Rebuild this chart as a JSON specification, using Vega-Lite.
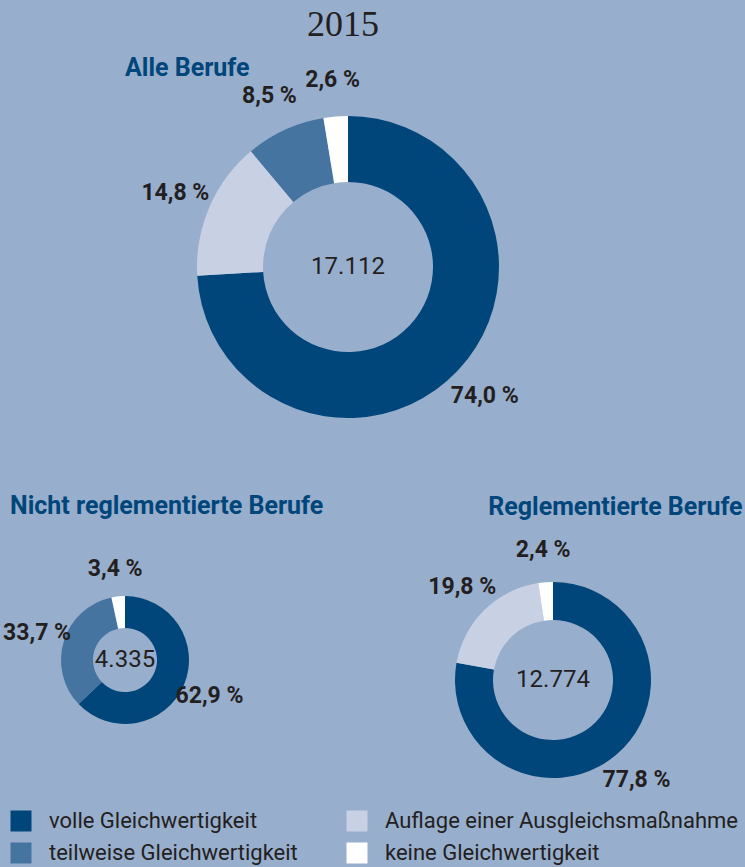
{
  "$schema": "https://vega.github.io/schema/vega-lite/v6.json",
  "background": "#98aecd",
  "padding": {"left": 0, "top": 6, "right": 0, "bottom": 0},
  "title": {"text": "2015", "font": "Liberation Serif", "fontSize": 36, "fontWeight": "normal", "color": "#231f20", "anchor": "start", "dx": 307, "baseline": "alphabetic", "offset": -16},
  "datasets": {
    "anteile": [
      {"gruppe": "Alle Berufe", "kategorie": "volle Gleichwertigkeit", "rang": 1, "anteil": 0.740},
      {"gruppe": "Alle Berufe", "kategorie": "Auflage einer Ausgleichsmaßnahme", "rang": 2, "anteil": 0.148},
      {"gruppe": "Alle Berufe", "kategorie": "teilweise Gleichwertigkeit", "rang": 3, "anteil": 0.085},
      {"gruppe": "Alle Berufe", "kategorie": "keine Gleichwertigkeit", "rang": 4, "anteil": 0.026},
      {"gruppe": "Nicht reglementierte Berufe", "kategorie": "volle Gleichwertigkeit", "rang": 1, "anteil": 0.629},
      {"gruppe": "Nicht reglementierte Berufe", "kategorie": "teilweise Gleichwertigkeit", "rang": 3, "anteil": 0.337},
      {"gruppe": "Nicht reglementierte Berufe", "kategorie": "keine Gleichwertigkeit", "rang": 4, "anteil": 0.034},
      {"gruppe": "Reglementierte Berufe", "kategorie": "volle Gleichwertigkeit", "rang": 1, "anteil": 0.778},
      {"gruppe": "Reglementierte Berufe", "kategorie": "Auflage einer Ausgleichsmaßnahme", "rang": 2, "anteil": 0.198},
      {"gruppe": "Reglementierte Berufe", "kategorie": "keine Gleichwertigkeit", "rang": 4, "anteil": 0.024}
    ],
    "summen": [
      {"gruppe": "Alle Berufe", "anzahl": 17112},
      {"gruppe": "Nicht reglementierte Berufe", "anzahl": 4335},
      {"gruppe": "Reglementierte Berufe", "anzahl": 12774}
    ]
  },
  "vconcat": [
    {
      "width": 696,
      "height": 366,
      "title": {"text": "Alle Berufe", "anchor": "start", "dx": 125, "offset": -32, "baseline": "alphabetic", "font": "Roboto", "fontSize": 25, "fontWeight": "bold", "color": "#00467a"},
      "layer": [
        {
          "data": {"name": "anteile"},
          "transform": [{"filter": "datum.gruppe === 'Alle Berufe'"}],
          "mark": {"type": "arc", "radius": 151, "radius2": 85},
          "encoding": {
            "theta": {"field": "anteil", "type": "quantitative", "stack": true},
            "order": {"field": "rang"},
            "color": {"field": "kategorie", "type": "nominal", "scale": {"domain": ["volle Gleichwertigkeit", "Auflage einer Ausgleichsmaßnahme", "teilweise Gleichwertigkeit", "keine Gleichwertigkeit"], "range": ["#00467a", "#c8d1e4", "#4674a0", "#ffffff"]}}
          }
        },
        {
          "data": {"name": "anteile"},
          "transform": [{"filter": "datum.gruppe === 'Alle Berufe'"}],
          "mark": {"type": "text", "radius": 188, "font": "Roboto", "fontSize": 23, "fontWeight": "bold", "color": "#231f20"},
          "encoding": {
            "theta": {"field": "anteil", "type": "quantitative", "stack": true},
            "order": {"field": "rang"},
            "text": {"field": "anteil", "type": "quantitative", "format": ".1%"}
          }
        },
        {
          "data": {"name": "summen"},
          "transform": [{"filter": "datum.gruppe === 'Alle Berufe'"}],
          "mark": {"type": "text", "font": "Roboto", "fontSize": 24, "color": "#231f20"},
          "encoding": {"text": {"field": "anzahl", "type": "quantitative", "format": ",d"}}
        }
      ]
    },
    {
      "hconcat": [
        {
          "width": 250,
          "height": 200,
          "title": {"text": "Nicht reglementierte Berufe", "anchor": "start", "dx": 10, "offset": 19, "baseline": "alphabetic", "font": "Roboto", "fontSize": 25, "fontWeight": "bold", "color": "#00467a"},
          "layer": [
            {
              "data": {"name": "anteile"},
              "transform": [{"filter": "datum.gruppe === 'Nicht reglementierte Berufe'"}],
              "mark": {"type": "arc", "radius": 64, "radius2": 32},
              "encoding": {
                "theta": {"field": "anteil", "type": "quantitative", "stack": true},
                "order": {"field": "rang"},
                "color": {"field": "kategorie", "type": "nominal", "scale": {"domain": ["volle Gleichwertigkeit", "Auflage einer Ausgleichsmaßnahme", "teilweise Gleichwertigkeit", "keine Gleichwertigkeit"], "range": ["#00467a", "#c8d1e4", "#4674a0", "#ffffff"]}}
              }
            },
            {
              "data": {"name": "anteile"},
              "transform": [{"filter": "datum.gruppe === 'Nicht reglementierte Berufe'"}],
              "mark": {"type": "text", "radius": 92, "font": "Roboto", "fontSize": 23, "fontWeight": "bold", "color": "#231f20"},
              "encoding": {
                "theta": {"field": "anteil", "type": "quantitative", "stack": true},
                "order": {"field": "rang"},
                "text": {"field": "anteil", "type": "quantitative", "format": ".1%"}
              }
            },
            {
              "data": {"name": "summen"},
              "transform": [{"filter": "datum.gruppe === 'Nicht reglementierte Berufe'"}],
              "mark": {"type": "text", "font": "Roboto", "fontSize": 24, "color": "#231f20"},
              "encoding": {"text": {"field": "anzahl", "type": "quantitative", "format": ",d"}}
            }
          ]
        },
        {
          "width": 240,
          "height": 240,
          "title": {"text": "Reglementierte Berufe", "anchor": "start", "dx": 60, "offset": -1, "baseline": "alphabetic", "font": "Roboto", "fontSize": 25, "fontWeight": "bold", "color": "#00467a"},
          "layer": [
            {
              "data": {"name": "anteile"},
              "transform": [{"filter": "datum.gruppe === 'Reglementierte Berufe'"}],
              "mark": {"type": "arc", "radius": 98, "radius2": 60},
              "encoding": {
                "theta": {"field": "anteil", "type": "quantitative", "stack": true},
                "order": {"field": "rang"},
                "color": {"field": "kategorie", "type": "nominal", "scale": {"domain": ["volle Gleichwertigkeit", "Auflage einer Ausgleichsmaßnahme", "teilweise Gleichwertigkeit", "keine Gleichwertigkeit"], "range": ["#00467a", "#c8d1e4", "#4674a0", "#ffffff"]}}
              }
            },
            {
              "data": {"name": "anteile"},
              "transform": [{"filter": "datum.gruppe === 'Reglementierte Berufe'"}],
              "mark": {"type": "text", "radius": 130, "font": "Roboto", "fontSize": 23, "fontWeight": "bold", "color": "#231f20"},
              "encoding": {
                "theta": {"field": "anteil", "type": "quantitative", "stack": true},
                "order": {"field": "rang"},
                "text": {"field": "anteil", "type": "quantitative", "format": ".1%"}
              }
            },
            {
              "data": {"name": "summen"},
              "transform": [{"filter": "datum.gruppe === 'Reglementierte Berufe'"}],
              "mark": {"type": "text", "font": "Roboto", "fontSize": 24, "color": "#231f20"},
              "encoding": {"text": {"field": "anzahl", "type": "quantitative", "format": ",d"}}
            }
          ]
        }
      ],
      "spacing": 183,
      "bounds": "flush"
    }
  ],
  "spacing": 110,
  "bounds": "flush",
  "resolve": {"scale": {"theta": "independent"}},
  "config": {
    "locale": {"number": {"decimal": ",", "thousands": ".", "grouping": [3], "currency": ["", "\u00a0€"], "percent": "\u00a0%"}},
    "view": {"stroke": null},
    "legend": {
      "orient": "bottom",
      "columns": 2,
      "title": null,
      "symbolType": "square",
      "symbolSize": 441,
      "symbolStrokeWidth": 0,
      "symbolOpacity": 1,
      "labelFont": "Roboto",
      "labelFontSize": 22,
      "labelColor": "#231f20",
      "labelOffset": 17,
      "labelLimit": 420,
      "rowPadding": 10,
      "columnPadding": 48,
      "padding": 10,
      "offset": 0
    }
  },
  "encoding": {}
}
